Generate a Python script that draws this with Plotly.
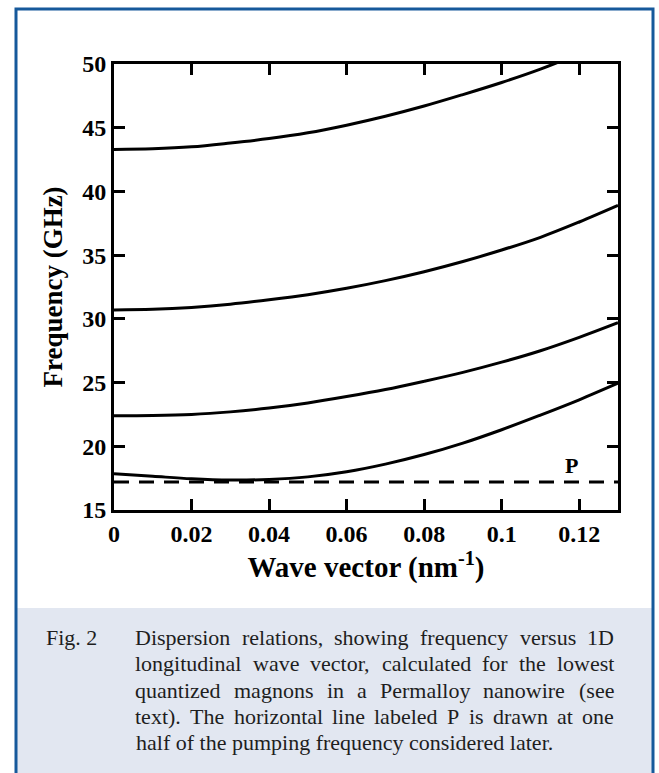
import plotly.graph_objects as go

# ---- data ----
k = [0.0, 0.01, 0.02, 0.03, 0.04, 0.05, 0.06, 0.07, 0.08, 0.09, 0.10, 0.11, 0.12, 0.13]
mode1 = [43.3, 43.35, 43.5, 43.8, 44.15, 44.6, 45.2, 45.9, 46.7, 47.6, 48.55, 49.6, 50.8, 52.0]
mode2 = [30.7, 30.75, 30.9, 31.15, 31.5, 31.9, 32.4, 33.0, 33.7, 34.5, 35.4, 36.4, 37.6, 38.9]
mode3 = [22.4, 22.42, 22.5, 22.7, 23.0, 23.4, 23.9, 24.45, 25.1, 25.8, 26.6, 27.5, 28.55, 29.7]
mode4 = [17.85, 17.65, 17.45, 17.35, 17.4, 17.6, 18.0, 18.6, 19.35, 20.25, 21.3, 22.45, 23.65, 24.95]
pump_half = 17.2
p_label = "P"
p_label_pos = (0.118, 18.5)

x_ticks = [0, 0.02, 0.04, 0.06, 0.08, 0.1, 0.12]
x_ticklabels = ["0", "0.02", "0.04", "0.06", "0.08", "0.1", "0.12"]
y_ticks = [15, 20, 25, 30, 35, 40, 45, 50]

x_title = "Wave vector (nm<sup>-1</sup>)"
y_title = "Frequency (GHz)"
fig_label = "Fig. 2"
caption_lines = [
    "Dispersion relations, showing frequency versus 1D",
    "longitudinal wave vector, calculated for the lowest",
    "quantized magnons in a Permalloy nanowire (see",
    "text). The horizontal line labeled P is drawn at one",
    "half of the pumping frequency considered later.",
]

# ---- layout geometry (pixels) ----
W, H = 659, 773
L, R, T, B = 114, 618, 64, 510
PW, PH = R - L, B - T


def px(x):
    return (x - L) / PW


def py(y):
    return (B - y) / PH


SERIF = "Liberation Serif, Times New Roman, serif"
BLUE = "#16599b"
CAPBG = "#e2e7f1"
TXT = "#1e1e1e"
CAP_SIZE = 22

# Times-Roman advance widths (1/1000 em) used to justify caption lines
TW = {' ': 250, ',': 250, '.': 250, '(': 333, ')': 333, '-': 333, '1': 500, '2': 500,
      'D': 722, 'F': 556, 'P': 556, 'T': 611,
      'a': 444, 'b': 500, 'c': 444, 'd': 500, 'e': 444, 'f': 333, 'g': 500, 'h': 500, 'i': 278,
      'j': 278, 'k': 500, 'l': 278, 'm': 778, 'n': 500, 'o': 500, 'p': 500, 'q': 500, 'r': 333,
      's': 389, 't': 278, 'u': 500, 'v': 500, 'w': 722, 'x': 500, 'y': 500, 'z': 444}


def wwidth(word):
    return sum(TW.get(c, 500) for c in word) * CAP_SIZE / 1000.0


fig = go.Figure()
for ys in (mode1, mode2, mode3, mode4):
    fig.add_trace(go.Scatter(x=k, y=ys, mode="lines", line=dict(color="black", width=3, shape="spline"),
                             showlegend=False, hoverinfo="skip"))
fig.add_trace(go.Scatter(x=[k[0], k[-1]], y=[pump_half, pump_half], mode="lines",
                         line=dict(color="black", width=3, dash="15px,10px"), showlegend=False, hoverinfo="skip"))

axis_common = dict(showgrid=False, zeroline=False, showline=True, linecolor="black", linewidth=3,
                   mirror="ticks", ticks="inside", ticklen=11, tickwidth=3, tickcolor="black",
                   tickfont=dict(family=SERIF, size=24, color="black"))

fig.update_xaxes(range=[0, 0.13], tickvals=x_ticks, ticktext=["<b>%s</b>" % t for t in x_ticklabels],
                 title=dict(text="<b>%s</b>" % x_title, font=dict(family=SERIF, size=29, color="black"), standoff=8),
                 **axis_common)
fig.update_yaxes(range=[15, 50], tickvals=y_ticks, ticktext=["<b>%d</b>" % t for t in y_ticks],
                 title=dict(text="<b>%s</b>" % y_title, font=dict(family=SERIF, size=27, color="black"), standoff=12),
                 **axis_common)

annotations = [
    dict(x=p_label_pos[0], y=p_label_pos[1], xref="x", yref="y", text="<b>%s</b>" % p_label, showarrow=False,
         font=dict(family=SERIF, size=22, color="black")),
    dict(x=px(44), y=py(637), xref="paper", yref="paper", xanchor="left", yanchor="middle", text=fig_label,
         showarrow=False, font=dict(family=SERIF, size=CAP_SIZE, color=TXT)),
]
line_y = [637, 663, 690, 716, 742]
TEXT_L, TEXT_R = 135, 614
for i, (yy, txt) in enumerate(zip(line_y, caption_lines)):
    last = i == len(caption_lines) - 1
    if last:
        annotations.append(dict(x=px(TEXT_L - 1), y=py(yy), xref="paper", yref="paper", xanchor="left",
                                yanchor="middle", text=txt, showarrow=False,
                                font=dict(family=SERIF, size=CAP_SIZE, color=TXT)))
        continue
    words = txt.split(" ")
    widths = [wwidth(w) for w in words]
    gap = (TEXT_R - TEXT_L - sum(widths)) / (len(words) - 1)
    xcur = TEXT_L
    for w, wd in zip(words, widths):
        annotations.append(dict(x=px(xcur + wd / 2.0), y=py(yy), xref="paper", yref="paper", xanchor="center",
                                yanchor="middle", text=w, showarrow=False,
                                font=dict(family=SERIF, size=CAP_SIZE, color=TXT)))
        xcur += wd + gap

shapes = [
    dict(type="rect", xref="paper", yref="paper", x0=px(17), x1=px(652), y0=py(608), y1=py(790),
         fillcolor=CAPBG, line=dict(width=0), layer="below"),
    dict(type="rect", xref="paper", yref="paper", x0=px(16), x1=px(653), y0=py(9), y1=py(800),
         fillcolor="rgba(0,0,0,0)", line=dict(color=BLUE, width=3), layer="above"),
]

fig.update_layout(width=W, height=H, margin=dict(l=L, r=W - R, t=T, b=H - B, autoexpand=False),
                  paper_bgcolor="white", plot_bgcolor="white", annotations=annotations, shapes=shapes,
                  font=dict(family=SERIF, color="black"))

fig.write_html("out.html", config={"displayModeBar": False},
               post_script="document.body.style.margin='0';document.body.style.overflow='hidden';")
